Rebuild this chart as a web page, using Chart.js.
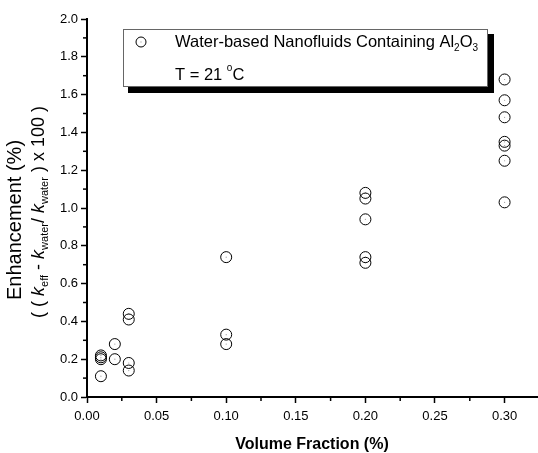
<!DOCTYPE html>
<html>
<head>
<meta charset="utf-8">
<script src="https://cdn.jsdelivr.net/npm/chart.js@4.4.0/dist/chart.umd.min.js"></script>
<style>
  body { margin: 0; background: #fff; }
  #wrap { width: 538px; height: 453px; }
</style>
</head>
<body>
<div id="wrap"><canvas id="chart" width="538" height="453"></canvas></div>
<script>
// volume fractions (%) and the measured enhancements at each one
const fractions = [0.01, 0.02, 0.03, 0.10, 0.20, 0.30];
const enh001 = [0.22, 0.21, 0.20, 0.11];
const enh002 = [0.28, 0.20];
const enh003 = [0.44, 0.41, 0.18, 0.14];
const enh010 = [0.74, 0.33, 0.28];
const enh020 = [1.08, 1.05, 0.94, 0.74, 0.71];
const enh030 = [1.68, 1.57, 1.48, 1.35, 1.33, 1.25, 1.03];
const enhancements = [enh001, enh002, enh003, enh010, enh020, enh030];

const xTicks = [0.00, 0.05, 0.10, 0.15, 0.20, 0.25, 0.30];
const yTicks = [0.0, 0.2, 0.4, 0.6, 0.8, 1.0, 1.2, 1.4, 1.6, 1.8, 2.0];

const points = [];
fractions.forEach((f, i) => {
    enhancements[i].forEach(v => points.push({ x: f, y: v }));
});

const FONT = '"Liberation Sans", Arial, sans-serif';

// minor ticks, axis titles and the boxed legend
const decorations = {
    id: 'decorations',
    afterDraw(chart) {
        const c = chart.ctx;
        const xs = chart.scales.x, ys = chart.scales.y;
        const area = chart.chartArea;
        c.save();
        c.strokeStyle = '#000';
        c.lineWidth = 1.5;
        // minor ticks
        for (let i = 0; i < xTicks.length; i++) {
            const px = xs.getPixelForValue(xTicks[i] + 0.025);
            if (px > area.right) break;
            c.beginPath(); c.moveTo(px, area.bottom); c.lineTo(px, area.bottom + 4); c.stroke();
        }
        for (let i = 0; i < yTicks.length - 1; i++) {
            const py = ys.getPixelForValue(yTicks[i] + 0.1);
            c.beginPath(); c.moveTo(area.left, py); c.lineTo(area.left - 4, py); c.stroke();
        }

        // x title
        c.fillStyle = '#000';
        c.font = 'bold 16px ' + FONT;
        c.textAlign = 'center';
        c.textBaseline = 'middle';
        c.fillText('Volume Fraction (%)', 312, 445);

        // y title, two lines rotated
        c.save();
        c.translate(15, 220);
        c.rotate(-Math.PI / 2);
        c.font = '20px ' + FONT;
        c.fillText('Enhancement (%)', 0, 0);
        c.restore();

        const parts = [
            ['( ( ', 'n'], ['k', 'i'], ['eff', 's'], [' - ', 'n'], ['k', 'i'], ['water', 's'],
            ['/ ', 'n'], ['k', 'i'], ['water', 's'], [' ) x 100 )', 'n']
        ];
        const fontFor = t => t === 'i' ? 'italic 18px ' + FONT : (t === 's' ? '11px ' + FONT : '18px ' + FONT);
        let total = 0;
        parts.forEach(p => { c.font = fontFor(p[1]); total += c.measureText(p[0]).width; });
        c.save();
        c.translate(39, 212);
        c.rotate(-Math.PI / 2);
        c.textAlign = 'left';
        let x = -total / 2;
        parts.forEach(p => {
            c.font = fontFor(p[1]);
            c.fillText(p[0], x, p[1] === 's' ? 6 : 0);
            x += c.measureText(p[0]).width;
        });
        c.restore();

        // legend box with shadow
        const bx = 123, by = 29, bw = 364, bh = 57;
        c.fillStyle = '#000';
        c.fillRect(bx + 5, by + bh, bw + 2, 7);
        c.fillRect(bx + bw, by + 5, 7, bh + 2);
        c.fillStyle = '#fff';
        c.fillRect(bx, by, bw, bh);
        c.strokeStyle = '#666';
        c.lineWidth = 1;
        c.strokeRect(bx + 0.5, by + 0.5, bw, bh);

        c.strokeStyle = '#000';
        c.beginPath(); c.arc(141, 42, 5, 0, Math.PI * 2); c.stroke();
        c.fillStyle = '#888';
        c.fillRect(140.5, 41.5, 1, 1);

        c.fillStyle = '#000';
        c.textAlign = 'left';
        c.font = '16.5px ' + FONT;
        let tx = 175;
        const l1 = 'Water-based Nanofluids Containing Al';
        c.fillText(l1, tx, 42);
        tx += c.measureText(l1).width;
        c.font = '10px ' + FONT;
        c.fillText('2', tx, 48);
        tx += c.measureText('2').width;
        c.font = '16.5px ' + FONT;
        c.fillText('O', tx, 42);
        tx += c.measureText('O').width;
        c.font = '10px ' + FONT;
        c.fillText('3', tx, 48);

        c.font = '16.5px ' + FONT;
        tx = 175;
        c.fillText('T = 21 ', tx, 75);
        tx += c.measureText('T = 21 ').width;
        c.font = '10px ' + FONT;
        c.fillText('o', tx, 68);
        tx += c.measureText('o').width;
        c.font = '16.5px ' + FONT;
        c.fillText('C', tx, 75);
        c.restore();
    }
};

new Chart(document.getElementById('chart'), {
    type: 'scatter',
    data: {
        datasets: [{
            data: points,
            pointStyle: 'circle',
            pointRadius: 5.5,
            pointBorderWidth: 1,
            borderColor: '#000',
            backgroundColor: 'rgba(0,0,0,0)'
        }, {
            data: points,
            pointRadius: 0.6,
            pointBorderWidth: 0,
            backgroundColor: '#999'
        }]
    },
    options: {
        responsive: false,
        animation: false,
        events: [],
        layout: { autoPadding: false, padding: { top: 19, right: 0, left: 0, bottom: 0 } },
        plugins: { legend: { display: false }, tooltip: { enabled: false } },
        scales: {
            x: {
                type: 'linear',
                min: 0,
                max: 0.324,
                afterFit: s => { s.height = 56; s.paddingRight = 0; s.paddingLeft = 0; },
                afterBuildTicks: s => { s.ticks = xTicks.map(v => ({ value: v })); },
                ticks: {
                    color: '#000',
                    font: { family: FONT, size: 13 },
                    padding: 6,
                    callback: v => v.toFixed(2)
                },
                grid: { drawOnChartArea: false, color: '#000', tickLength: 6, tickWidth: 1.5 },
                border: { color: '#000', width: 2 }
            },
            y: {
                min: 0,
                max: 2.0,
                afterFit: s => { s.width = 87; s.paddingTop = 0; s.paddingBottom = 0; },
                afterBuildTicks: s => { s.ticks = yTicks.map(v => ({ value: v })); },
                ticks: {
                    color: '#000',
                    font: { family: FONT, size: 13 },
                    padding: 3,
                    callback: v => v.toFixed(1)
                },
                grid: { drawOnChartArea: false, color: '#000', tickLength: 6, tickWidth: 1.5 },
                border: { color: '#000', width: 2 }
            }
        }
    },
    plugins: [decorations]
});
</script>
</body>
</html>
